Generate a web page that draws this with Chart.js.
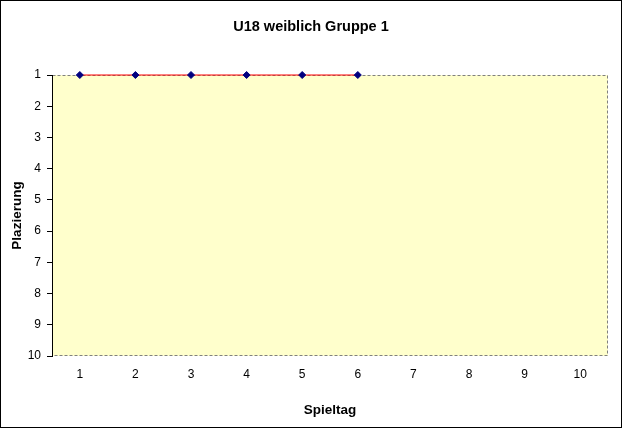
<!DOCTYPE html>
<html>
<head>
<meta charset="utf-8">
<script src="https://cdn.jsdelivr.net/npm/chart.js@4"></script>
<style>
  html, body { margin: 0; padding: 0; background: #fff; }
  #wrap { width: 622px; height: 428px; }
</style>
</head>
<body>
<div id="wrap"><canvas id="chart" width="622" height="428"></canvas></div>
<script>
// Spieltage und Platzierungen
const spieltage = ['1', '2', '3', '4', '5', '6', '7', '8', '9', '10'];
const platzierung = [1, 1, 1, 1, 1, 1, null, null, null, null];
const yMin = 1;
const yMax = 10;
const chartTitle = 'U18 weiblich Gruppe 1';

const FONT = "Arial, 'Liberation Sans', sans-serif";

// Hintergrund der Zeichenfläche + gestrichelter Rahmen, Titel über die ganze Breite, äußerer Rahmen
const plotBox = {
    id: 'plotBox',
    beforeDraw(chart) {
        const { ctx, chartArea: a } = chart;
        ctx.save();
        ctx.fillStyle = '#FFFFCC';
        ctx.fillRect(a.left, a.top, a.right - a.left, a.bottom - a.top);
        ctx.strokeStyle = '#808080';
        ctx.lineWidth = 1;
        ctx.setLineDash([3, 2]);
        ctx.strokeRect(a.left + 0.5, a.top + 0.5, a.right - a.left - 1, a.bottom - a.top - 1);
        ctx.restore();
    },
    afterDraw(chart) {
        const ctx = chart.ctx;
        ctx.save();
        ctx.fillStyle = '#000';
        ctx.font = 'bold 14.5px ' + FONT;
        ctx.textAlign = 'center';
        ctx.textBaseline = 'middle';
        ctx.fillText(chartTitle, chart.width / 2, 27);
        ctx.strokeStyle = '#000';
        ctx.lineWidth = 1;
        ctx.strokeRect(0.5, 0.5, chart.width - 1, chart.height - 1);
        ctx.restore();
    }
};

new Chart(document.getElementById('chart').getContext('2d'), {
    type: 'line',
    data: {
        labels: spieltage,
        datasets: [{
            data: platzierung,
            borderColor: '#FF0000',
            borderWidth: 1,
            pointStyle: 'rectRot',
            pointRadius: 3.5,
            pointBackgroundColor: '#000080',
            pointBorderColor: '#000080',
            pointBorderWidth: 1,
            tension: 0,
            clip: false
        }]
    },
    options: {
        responsive: false,
        animation: false,
        layout: { padding: { left: 0, right: 14, top: 75, bottom: 0 } },
        plugins: {
            legend: { display: false },
            tooltip: { enabled: false },
            title: { display: false }
        },
        scales: {
            x: {
                type: 'category',
                offset: true,
                grid: { display: false, drawTicks: false },
                border: { display: false },
                ticks: { color: '#000', font: { family: FONT, size: 12 }, padding: 11, maxRotation: 0 },
                title: {
                    display: true,
                    text: 'Spieltag',
                    color: '#000',
                    font: { family: FONT, size: 13.5, weight: 'bold' },
                    padding: { top: 0, bottom: 10 }
                },
                afterFit(scale) { scale.height = 72; }
            },
            y: {
                reverse: true,
                min: yMin,
                max: yMax,
                grid: { drawOnChartArea: false, drawTicks: true, tickLength: 5, color: '#000' },
                border: { display: true, color: '#000', width: 1 },
                ticks: { stepSize: 1, color: '#000', font: { family: FONT, size: 12 }, padding: 6 },
                title: {
                    display: true,
                    text: 'Plazierung',
                    color: '#000',
                    font: { family: FONT, size: 13.5, weight: 'bold' },
                    padding: { top: 9, bottom: 0 }
                },
                afterFit(scale) { scale.width = 52; }
            }
        }
    },
    plugins: [plotBox]
});
</script>
</body>
</html>
